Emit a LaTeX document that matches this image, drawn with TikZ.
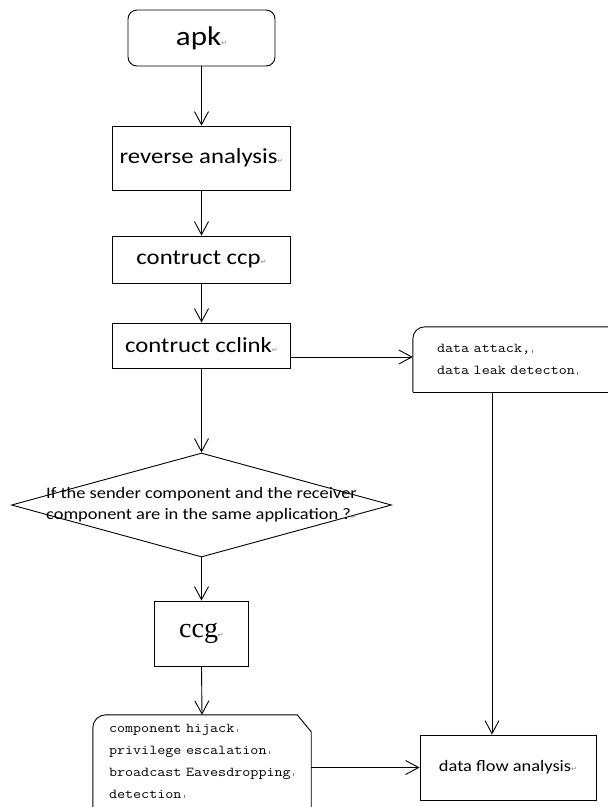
\documentclass[tikz,border=0pt]{standalone}
\usepackage{fontspec}
\setmainfont[FakeStretch=1.15]{Carlito}
\setmonofont[FakeStretch=1.15]{Latin Modern Mono}
\newfontfamily\seriffont{Liberation Serif}
\newfontfamily\symfont{DejaVu Sans}
\usepackage{tikz}
\usetikzlibrary{shapes.geometric,arrows.meta}

% small grey paragraph marks
\newcommand{\ret}{{\symfont\color{gray}\fontsize{7}{7}\selectfont ↵}}
\newcommand{\brk}{\,{\color{gray}\rule{0.5pt}{3pt}}}

\tikzset{
  box/.style={draw,line width=0.9pt,minimum width=178pt,inner sep=0pt,font=\fontsize{21.5}{24}\selectfont},
  note/.style={inner ysep=0pt,align=left,font=\ttfamily\fontsize{13.6}{22}\selectfont},
  arr/.style={line width=0.9pt,-{Straight Barb[length=13pt,width=14pt,line width=0.9pt]}},
}

\begin{document}
\begin{tikzpicture}[x=1pt,y=-1pt]
\useasboundingbox (0,0) rectangle (608,807);

\node[box,rounded corners=9pt,minimum width=147pt,minimum height=56pt,font=\fontsize{27}{30}\selectfont] (apk) at (201.5,38) {apk\ret};
\node[box,minimum height=64pt] (rev) at (201.5,158) {reverse analysis\ret};
\node[box,minimum height=47pt] (ccp) at (201.5,259.5) {contruct ccp\ret};
\node[box,minimum height=45pt] (cclink) at (201.5,345.5) {contruct cclink\ret};

\node[note,minimum width=207pt,minimum height=65pt,inner xsep=24pt,text width=159pt] (attack) at (516.5,359.5)
  {data attack,\brk\\ data leak detecton\brk};
\draw[line width=0.9pt] (attack.south west) -- ([yshift=-12pt]attack.north west)
  arc[start angle=180,end angle=90,radius=12pt] -- (attack.north east);
\draw[line width=0.9pt] (attack.south west) -- (attack.south east);

\node[draw,shape=diamond,line width=0.9pt,minimum width=380pt,minimum height=104pt,inner sep=0pt] (same) at (201.5,505) {};
\node[align=center,font=\fontsize{16}{21}\selectfont] (sametext) at (same)
  {If the sender component and the receiver\\ component are in the same application ?\ret};

\node[box,minimum width=94pt,minimum height=65pt,font=\seriffont\fontsize{28}{30}\selectfont] (ccg) at (201.5,633.5) {ccg\ret};

\node[note,minimum width=218pt,minimum height=92pt,inner xsep=16pt,text width=186pt] (hijack) at (202,761)
  {component hijack\brk\\ privilege escalation\brk\\ broadcast Eavesdropping\brk\\ detection\brk};
\draw[line width=0.9pt] ([yshift=-10pt]hijack.south west) -- ([yshift=-13pt]hijack.north west)
  arc[start angle=180,end angle=90,radius=13pt] -- ([xshift=-14pt]hijack.north east)
  -- ([yshift=-17pt]hijack.north east) -- ([yshift=-10pt]hijack.south east);

\node[box,minimum width=176pt,minimum height=65pt,font=\fontsize{16}{18}\selectfont] (dfa) at (508,767.5) {data flow analysis\ret};

\foreach \a/\b in {apk/rev,rev/ccp,ccp/cclink,cclink/same,same/ccg,ccg/hijack}
  \draw[arr] (\a.south) -- (\b.north);

\coordinate (drop) at (492,0);
\draw[arr] ([yshift=-11.5pt]cclink.east) -- ([yshift=-11.5pt]cclink.east -| attack.west);
\draw[arr] (attack.south -| drop) -- (dfa.north -| drop);
\draw[arr] (hijack.east |- dfa.west) -- (dfa.west);
\end{tikzpicture}
\end{document}
